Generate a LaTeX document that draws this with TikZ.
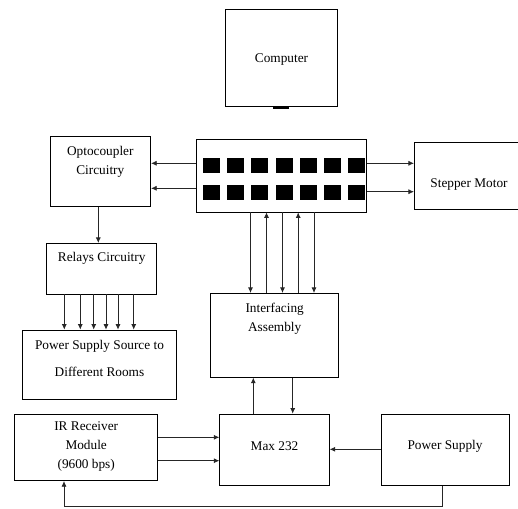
\documentclass[tikz,border=0pt]{standalone}
\usepackage{fontspec}
\setmainfont{Liberation Serif}
\usetikzlibrary{arrows.meta}

\tikzset{
  blk/.style={draw=black, line width=0.8pt, inner sep=0pt, fill=white},
  lbl/.style={inner sep=0pt, align=center, font=\fontsize{13.3}{19}\selectfont},
  wire/.style={draw=black!85, line width=0.7pt},
  arr/.style={wire, -{Latex[length=5.5pt,width=5pt]}},
  pad/.style={fill=black, draw=none, inner sep=0pt, minimum width=17pt, minimum height=15.5pt},
}

% a box from its corners (x1,y1)-(x2,y2), measured from the top-left
\newcommand{\blockbox}[5]{%
  \node[blk, minimum width={(#4)-(#2)}, minimum height={(#5)-(#3)}]
    (#1) at ({((#2)+(#4))/2},{((#3)+(#5))/2}) {};}

\begin{document}
\begin{tikzpicture}[x=1pt, y=-1pt]
\clip (0,0) rectangle (518,508);
\fill[white] (0,0) rectangle (518,508);

% ---- boxes ----
\blockbox{comp}{225.7}{9.3}{337.3}{106.7}
\blockbox{opto}{50}{136.3}{150.7}{206.7}
\blockbox{port}{196.7}{139.3}{366.7}{212}
\blockbox{step}{414.3}{142.3}{530}{209.3}
\blockbox{relay}{46.7}{243.3}{156.7}{294}
\blockbox{intf}{210.7}{293.3}{338.7}{377.3}
\blockbox{rooms}{22.7}{330}{176.3}{399.3}
\blockbox{ir}{14.7}{414}{157.7}{480.7}
\blockbox{max}{219.7}{414}{329.3}{485}
\blockbox{psu}{381}{414}{509.3}{485.7}

% cable stub under the computer
\fill[black] (272.7,105.8) rectangle (289.3,108.6);

% ---- labels ----
\node[lbl] (compT)  at (281.5,60) {Computer};
\node[lbl] (optoT)  at (100.3,161.5) {Optocoupler\\Circuitry};
\node[lbl] (stepT)  at (469,185) {Stepper Motor};
\node[lbl] (relayT) at (101.7,258.5) {Relays Circuitry};
\node[lbl] (intfT)  at (274.7,318.5) {Interfacing\\Assembly};
\node[lbl] (roomsT) at (99.5,358) {Power Supply Source to\\[8pt]Different Rooms};
\node[lbl] (irT)    at (86.2,446.3) {IR Receiver\\Module\\(9600 bps)};
\node[lbl] (maxT)   at (274.5,446) {Max 232};
\node[lbl] (psuT)   at (445,446) {Power Supply};

% ---- port pads: two rows of seven ----
\foreach \i in {0,...,6} {
  \node[pad] (padA\i) at ({211.4+24.2*\i},165.7) {};
  \node[pad] (padB\i) at ({211.4+24.2*\i},192.5) {};
}

% ---- connectors ----
% port to optocoupler
\draw[arr] (port.west |- 0,163.3) -- (opto.east |- 0,163.3);
\draw[arr] (port.west |- 0,188.3) -- (opto.east |- 0,188.3);
% port to stepper motor
\draw[arr] (port.east |- 0,163.3) -- (step.west |- 0,163.3);
\draw[arr] (port.east |- 0,191.7) -- (step.west |- 0,191.7);

% optocoupler to relays
\draw[arr] (opto.south -| 98.3,0) -- (relay.north -| 98.3,0);

% relays to rooms
\foreach \x in {64.3,80.3,93.7,106,118,133.7}
  \draw[arr] (relay.south -| \x,0) -- (rooms.north -| \x,0);

% port <-> interfacing assembly
\draw[arr] (port.south -| 250.5,0) -- (intf.north -| 250.5,0);
\draw[arr] (intf.north -| 266.5,0) -- (port.south -| 266.5,0);
\draw[arr] (port.south -| 282.5,0) -- (intf.north -| 282.5,0);
\draw[arr] (intf.north -| 298.2,0) -- (port.south -| 298.2,0);
\draw[arr] (port.south -| 314,0) -- (intf.north -| 314,0);

% interfacing assembly <-> max 232
\draw[arr] (max.north -| 253.3,0) -- (intf.south -| 253.3,0);
\draw[arr] (intf.south -| 292.7,0) -- (max.north -| 292.7,0);

% IR receiver to max 232
\draw[arr] (ir.east |- 0,437.3) -- (max.west |- 0,437.3);
\draw[arr] (ir.east |- 0,460.7) -- (max.west |- 0,460.7);

% power supply to max 232
\draw[arr] (psu.west |- 0,449.3) -- (max.east |- 0,449.3);

% power supply back to the IR receiver
\coordinate (loopR) at (442.7,506.7);
\coordinate (loopL) at (64,506.7);
\draw[arr] (psu.south -| loopR) -- (loopR) -- (loopL) -- (ir.south -| loopL);

\end{tikzpicture}
\end{document}
